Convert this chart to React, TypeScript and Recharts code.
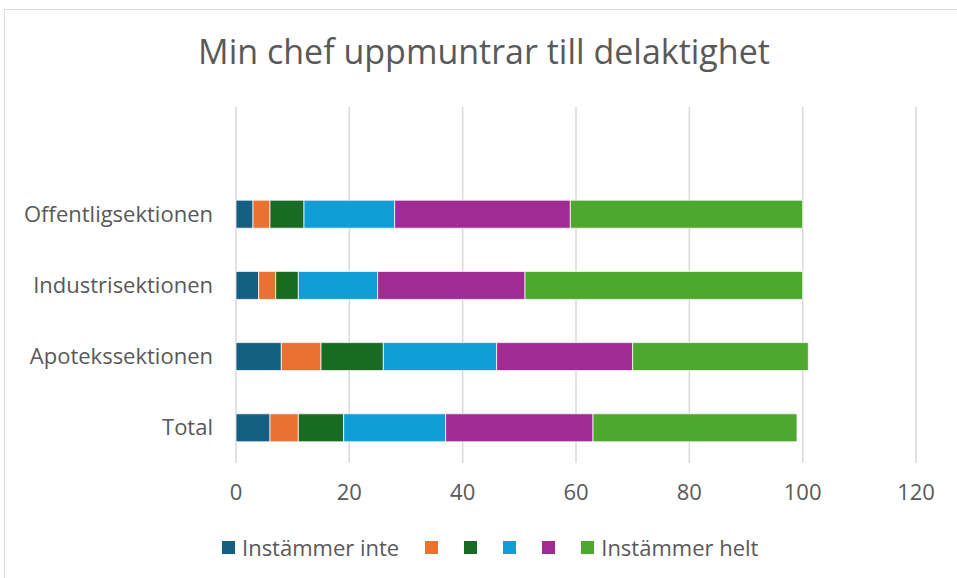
import { BarChart, Bar, XAxis, YAxis, CartesianGrid } from 'recharts';

// Categories top to bottom (first row is the empty slot Excel leaves above the bars)
const categories = ['', 'Offentligsektionen', 'Industrisektionen', 'Apotekssektionen', 'Total'];

const instammerInte = [null, 3, 4, 8, 6];
const level2 = [null, 3, 3, 7, 5];
const level3 = [null, 6, 4, 11, 8];
const level4 = [null, 16, 14, 20, 18];
const level5 = [null, 31, 26, 24, 26];
const instammerHelt = [null, 41, 49, 31, 36];

const xTicks = [0, 20, 40, 60, 80, 100, 120];

const seriesNames = ['Instämmer inte', '', '', '', '', 'Instämmer helt'];
const seriesColors = ['#156082', '#E97132', '#196B24', '#0F9ED5', '#A02B93', '#4EA72E'];
const seriesValues = [instammerInte, level2, level3, level4, level5, instammerHelt];

const data = categories.map((name, i) => {
  const row: Record<string, unknown> = { name };
  seriesValues.forEach((vals, s) => {
    row[`s${s}`] = vals[i];
  });
  return row;
});

const FONT = '"Open Sans", "Noto Sans", sans-serif';
const TEXT = '#595959';

export default function App() {
  return (
    <div
      style={{
        position: 'absolute',
        left: 0,
        top: 0,
        width: 957,
        height: 578,
        overflow: 'hidden',
        background: '#fff',
        fontFamily: FONT,
      }}
    >
      <div
        style={{
          position: 'absolute',
          left: 4,
          top: 9,
          width: 980,
          height: 600,
          borderTop: '1px solid #d9d9d9',
          borderLeft: '1.5px solid #d9d9d9',
        }}
      />
      <div
        style={{
          position: 'absolute',
          left: 0,
          width: 968,
          top: 34,
          textAlign: 'center',
          fontSize: 34,
          lineHeight: '34px',
          color: TEXT,
          whiteSpace: 'nowrap',
        }}
      >
        Min chef uppmuntrar till delaktighet
      </div>

      <div style={{ position: 'absolute', left: 0, top: 0 }}>
        <BarChart
          width={957}
          height={578}
          data={data}
          layout="vertical"
          margin={{ top: 107, right: 41, left: 0, bottom: 0 }}
          style={{ fontFamily: FONT }}
        >
          <CartesianGrid horizontal={false} stroke="#d9d9d9" strokeWidth={1.5} />
          <XAxis
            type="number"
            domain={[0, 120]}
            ticks={xTicks}
            axisLine={false}
            tickLine={false}
            tickSize={0}
            tickMargin={21}
            height={115}
            tick={{ fill: TEXT, fontSize: 22 }}
          />
          <YAxis
            type="category"
            dataKey="name"
            width={236}
            interval={0}
            axisLine={false}
            tickLine={false}
            tickSize={0}
            tickMargin={23}
            tick={{ fill: TEXT, fontSize: 22 }}
          />
          {seriesValues.map((_, s) => (
            <Bar
              key={s}
              dataKey={`s${s}`}
              name={seriesNames[s]}
              stackId="a"
              fill={seriesColors[s]}
              stroke="#ffffff"
              strokeWidth={0.75}
              barSize={28}
              isAnimationActive={false}
            />
          ))}
        </BarChart>
      </div>

      {/* Legend */}
      <div
        style={{
          position: 'absolute',
          left: 222,
          top: 532,
          height: 30,
          display: 'flex',
          alignItems: 'center',
          gap: 26,
          fontSize: 22,
          color: TEXT,
          whiteSpace: 'nowrap',
        }}
      >
        {seriesNames.map((name, s) => (
          <div key={s} style={{ display: 'flex', alignItems: 'center' }}>
            <div style={{ width: 13, height: 13, background: seriesColors[s] }} />
            {name && <span style={{ marginLeft: 7 }}>{name}</span>}
          </div>
        ))}
      </div>
    </div>
  );
}
